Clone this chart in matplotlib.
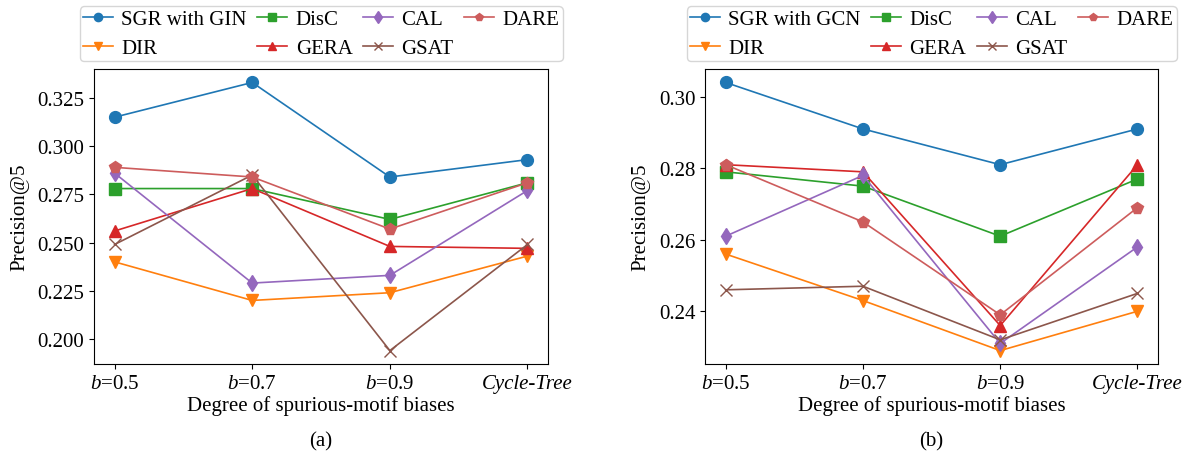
import matplotlib
matplotlib.use("Agg")
import matplotlib.pyplot as plt

plt.rcParams['font.family'] = ['Liberation Serif', 'DejaVu Serif']
plt.rcParams['mathtext.fontset'] = 'custom'
plt.rcParams['mathtext.rm'] = 'Liberation Serif'
plt.rcParams['mathtext.it'] = 'Liberation Serif:italic'
plt.rcParams['font.size'] = 15

x_labels = ['$b$=0.5', '$b$=0.7', '$b$=0.9', 'Cycle-Tree']
methods = ['SGR', 'DIR', 'DisC', 'GERA', 'CAL', 'GSAT', 'DARE']

# panel (a) - GIN
sgr_a  = [0.315, 0.333, 0.284, 0.293]
dir_a  = [0.240, 0.220, 0.224, 0.243]
disc_a = [0.278, 0.278, 0.262, 0.281]
gera_a = [0.256, 0.278, 0.248, 0.247]
cal_a  = [0.286, 0.229, 0.233, 0.277]
gsat_a = [0.249, 0.285, 0.194, 0.249]
dare_a = [0.289, 0.284, 0.257, 0.281]

# panel (b) - GCN
sgr_b  = [0.304, 0.291, 0.281, 0.291]
dir_b  = [0.256, 0.243, 0.229, 0.240]
disc_b = [0.279, 0.275, 0.261, 0.277]
gera_b = [0.281, 0.279, 0.236, 0.281]
cal_b  = [0.261, 0.278, 0.231, 0.258]
gsat_b = [0.246, 0.247, 0.232, 0.245]
dare_b = [0.281, 0.265, 0.239, 0.269]

styles = {
    'SGR':  dict(color='#1f77b4', marker='o'),
    'DIR':  dict(color='#ff7f0e', marker='v'),
    'DisC': dict(color='#2ca02c', marker='s'),
    'GERA': dict(color='#d62728', marker='^'),
    'CAL':  dict(color='#9467bd', marker='d'),
    'GSAT': dict(color='#8c564b', marker='x'),
    'DARE': dict(color='#cd5c5c', marker='p'),
}

panels = [
    ('SGR with GIN', [sgr_a, dir_a, disc_a, gera_a, cal_a, gsat_a, dare_a], '(a)'),
    ('SGR with GCN', [sgr_b, dir_b, disc_b, gera_b, cal_b, gsat_b, dare_b], '(b)'),
]

fig = plt.figure(figsize=(11.89, 4.52), dpi=100)
rects = [[0.079, 0.1925, 0.382, 0.6525], [0.593, 0.1925, 0.381, 0.6525]]

xs = list(range(len(x_labels)))
for rect, (sgr_name, series, cap) in zip(rects, panels):
    ax = fig.add_axes(rect)
    for name, vals in zip(methods, series):
        label = sgr_name if name == 'SGR' else name
        st = styles[name]
        ms = 9 if name == 'GSAT' else 8.5
        ax.plot(xs, vals, color=st['color'], marker=st['marker'], markersize=ms,
                linewidth=1.2, label=label)
    ax.set_xticks(xs)
    ax.set_xticklabels(x_labels)
    ax.get_xticklabels()[3].set_style('italic')
    ax.set_xlabel('Degree of spurious-motif biases', labelpad=2)
    ax.set_ylabel('Precision@5', labelpad=6)
    ax.legend(loc='lower center', bbox_to_anchor=(0.5, 1.0), ncol=4,
              handlelength=1.45, handletextpad=0.4, columnspacing=0.5,
              labelspacing=0.45, borderpad=0.15, markerscale=0.7,
              borderaxespad=0.38, fontsize=15)
    pos = ax.get_position()
    fig.text(pos.x0 + pos.width / 2, 1 - 442 / 452, cap, ha='center', va='center', fontsize=15)

fig.savefig('out.png', dpi=100)
